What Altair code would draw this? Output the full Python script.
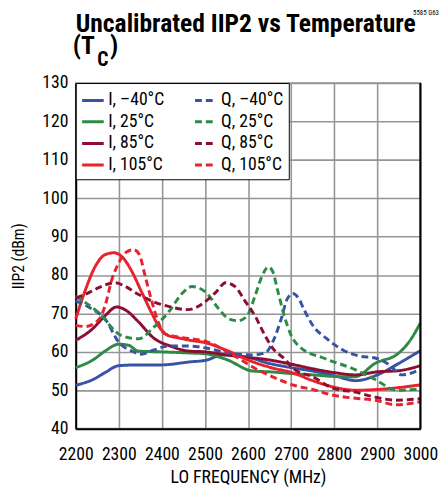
import altair as alt
import pandas as pd

FONT = "Liberation Sans Narrow, Roboto Condensed, DejaVu Sans Condensed, Liberation Sans, sans-serif"

series_names = ["I, –40°C", "I, 25°C", "I, 85°C", "I, 105°C",
                "Q, –40°C", "Q, 25°C", "Q, 85°C", "Q, 105°C"]
series_colors = ["#3953a4", "#2e8b47", "#8c0f32", "#e8232e",
                 "#3953a4", "#2e8b47", "#8c0f32", "#e8232e"]

x_ticks = [2200, 2300, 2400, 2500, 2600, 2700, 2800, 2900, 3000]
y_ticks = [40, 50, 60, 70, 80, 90, 100, 110, 120, 130]

i_m40_f = [2200, 2240, 2268, 2300, 2345, 2398, 2466, 2502, 2541, 2600, 2645, 2700, 2750, 2800, 2850, 2900, 2950, 3000]
i_m40_v = [51.3, 52.8, 54.6, 56.4, 56.6, 56.6, 57.4, 57.8, 59.2, 58.6, 57.1, 55.9, 55.0, 53.8, 52.5, 54.0, 57.0, 60.3]

i_25_f = [2200, 2240, 2268, 2300, 2323, 2345, 2398, 2466, 2500, 2550, 2611, 2650, 2707, 2750, 2800, 2848, 2895, 2950, 2975, 3000]
i_25_v = [55.9, 57.9, 60.2, 62.0, 61.7, 60.2, 60.0, 59.7, 59.5, 58.0, 55.0, 54.8, 54.3, 54.0, 53.6, 53.5, 57.0, 59.7, 62.8, 67.5]

i_85_f = [2200, 2239, 2268, 2295, 2318, 2345, 2382, 2420, 2461, 2500, 2550, 2593, 2643, 2700, 2750, 2800, 2850, 2900, 2950, 3000]
i_85_v = [63.0, 66.0, 69.4, 71.7, 70.7, 67.9, 63.5, 61.5, 60.2, 60.0, 59.2, 58.6, 58.0, 56.8, 55.6, 54.6, 54.0, 54.8, 55.1, 56.4]

i_105_f = [2200, 2223, 2245, 2268, 2289, 2307, 2330, 2352, 2375, 2393, 2414, 2440, 2466, 2500, 2548, 2611, 2650, 2707, 2750, 2800, 2850, 2900, 2950, 3000]
i_105_v = [68.6, 76.3, 82.2, 85.3, 85.8, 84.8, 81.0, 75.8, 70.4, 66.6, 64.3, 63.6, 63.0, 62.4, 60.5, 57.4, 56.0, 54.4, 52.5, 50.8, 50.0, 50.2, 50.7, 51.4]

q_m40_f = [2200, 2240, 2268, 2300, 2330, 2352, 2382, 2414, 2466, 2502, 2555, 2609, 2639, 2661, 2677, 2691, 2704, 2718, 2730, 2752, 2782, 2820, 2859, 2895, 2927, 2957, 3000]
q_m40_v = [73.3, 71.0, 68.6, 62.5, 60.2, 59.4, 60.5, 61.5, 61.5, 61.0, 59.7, 59.2, 59.7, 63.5, 68.6, 73.8, 75.2, 73.8, 71.0, 66.6, 63.5, 60.5, 58.9, 58.4, 56.7, 54.0, 55.5]

q_25_f = [2200, 2250, 2307, 2345, 2382, 2420, 2445, 2470, 2502, 2532, 2555, 2577, 2598, 2616, 2632, 2647, 2657, 2668, 2684, 2700, 2723, 2775, 2850, 2895, 2945, 3000]
q_25_v = [74.5, 70.5, 64.2, 63.4, 66.5, 71.0, 75.0, 77.0, 75.5, 71.2, 68.6, 68.1, 69.4, 74.5, 79.6, 82.1, 81.0, 76.3, 69.4, 64.3, 61.0, 58.4, 55.3, 52.8, 50.0, 50.3]

q_85_f = [2200, 2223, 2255, 2291, 2314, 2345, 2382, 2420, 2461, 2502, 2525, 2548, 2570, 2593, 2616, 2639, 2657, 2684, 2707, 2750, 2798, 2850, 2895, 2945, 3000]
q_85_v = [74.0, 75.0, 76.8, 78.0, 77.1, 75.0, 73.0, 71.7, 71.0, 73.2, 75.5, 78.0, 77.0, 73.2, 69.4, 64.3, 61.0, 58.2, 55.5, 53.5, 50.5, 49.5, 48.2, 47.4, 47.8]

q_105_f = [2200, 2223, 2255, 2268, 2284, 2300, 2318, 2334, 2348, 2359, 2375, 2391, 2405, 2420, 2461, 2500, 2550, 2590, 2623, 2661, 2707, 2750, 2798, 2850, 2895, 2945, 3000]
q_105_v = [66.9, 66.6, 68.6, 72.0, 78.9, 83.2, 86.0, 86.6, 85.3, 80.7, 73.8, 67.9, 64.8, 64.3, 63.5, 62.8, 60.2, 57.5, 55.3, 53.3, 51.3, 50.2, 48.7, 47.9, 47.4, 46.2, 47.0]

series_data = [
    (i_m40_f, i_m40_v), (i_25_f, i_25_v), (i_85_f, i_85_v), (i_105_f, i_105_v),
    (q_m40_f, q_m40_v), (q_25_f, q_25_v), (q_85_f, q_85_v), (q_105_f, q_105_v),
]

rows = []
for name, (fs, vs) in zip(series_names, series_data):
    for f, v in zip(fs, vs):
        rows.append({"series": name, "freq": f, "iip2": v})
df = pd.DataFrame(rows)

dash_range = [[1, 0] if n.startswith("I") else [7, 4] for n in series_names]

W, H = 351, 352

x_scale = alt.Scale(domain=[2200, 3000], nice=False, zero=False)
y_scale = alt.Scale(domain=[40, 130], nice=False, zero=False)

legend_kw = dict(title=None, orient="none", legendX=0, legendY=0, columns=2,
                 symbolType="stroke", symbolSize=484, symbolStrokeWidth=3,
                 labelFontSize=18, labelFont=FONT, labelColor="black",
                 fillColor="white", strokeColor="black",
                 padding=5, rowPadding=-3, columnPadding=24, labelOffset=3,
                 labelLimit=200)

lines = alt.Chart(df).mark_line(strokeWidth=3, interpolate="monotone").encode(
    x=alt.X("freq:Q", scale=x_scale,
            axis=alt.Axis(values=x_ticks, title="LO FREQUENCY (MHz)", format="d",
                          labelFontSize=18, titleFontSize=18, labelPadding=17,
                          titlePadding=6, ticks=False, domainColor="black",
                          domainWidth=2, gridColor="#959595", gridWidth=1.6,
                          labelFont=FONT, titleFont=FONT, titleFontWeight="normal",
                          labelColor="black", titleColor="black", labelFlush=False)),
    y=alt.Y("iip2:Q", scale=y_scale,
            axis=alt.Axis(values=y_ticks, title="IIP2 (dBm)", labelFontSize=18,
                          titleFontSize=16, labelPadding=8, ticks=False,
                          domainColor="black", domainWidth=2, gridColor="#959595",
                          gridWidth=1.6, labelFont=FONT, titleFont=FONT,
                          titleFontWeight="normal", labelColor="black",
                          titleColor="black", titleX=-50, titleY=176,
                          titleAngle=-90, titleAnchor="middle", labelFlush=False)),
    color=alt.Color("series:N", scale=alt.Scale(domain=series_names, range=series_colors),
                    legend=alt.Legend(**legend_kw)),
    strokeDash=alt.StrokeDash("series:N", scale=alt.Scale(domain=series_names, range=dash_range),
                              legend=alt.Legend(**legend_kw)),
    order=alt.Order("freq:Q"),
)

edge = alt.Chart(pd.DataFrame({"freq": [3000]})).mark_rule(color="black", strokeWidth=2).encode(
    x=alt.X("freq:Q", scale=x_scale)
)

one = pd.DataFrame({"a": [0]})
TFONT = FONT

title1 = alt.Chart(one).mark_text(text="Uncalibrated IIP2 vs Temperature", font=TFONT,
                                  fontSize=26, fontWeight="bold", align="left",
                                  baseline="alphabetic", color="black").encode(
    x=alt.value(0), y=alt.value(-52))
t_open = alt.Chart(one).mark_text(text="(T", font=TFONT, fontSize=26, fontWeight="bold",
                                  align="left", baseline="alphabetic", color="black").encode(
    x=alt.value(-3), y=alt.value(-30))
t_sub = alt.Chart(one).mark_text(text="C", font=TFONT, fontSize=20, fontWeight="bold",
                                 align="left", baseline="alphabetic", color="black").encode(
    x=alt.value(22), y=alt.value(-17))
t_close = alt.Chart(one).mark_text(text=")", font=TFONT, fontSize=26, fontWeight="bold",
                                   align="left", baseline="alphabetic", color="black").encode(
    x=alt.value(35), y=alt.value(-30))
code = alt.Chart(one).mark_text(text="5585 G63", font=TFONT, fontSize=7,
                                align="right", baseline="alphabetic", color="black").encode(
    x=alt.value(370), y=alt.value(-69))

chart = alt.layer(lines, edge, title1, t_open, t_sub, t_close, code).properties(
    width=W, height=H,
    autosize=alt.AutoSizeParams(type="none"),
    padding={"left": 69, "top": 72, "right": 20, "bottom": 56},
).configure_view(stroke="#959595", strokeWidth=1.6)

chart.save("out.html", embed_options={"renderer": "svg", "actions": False})
